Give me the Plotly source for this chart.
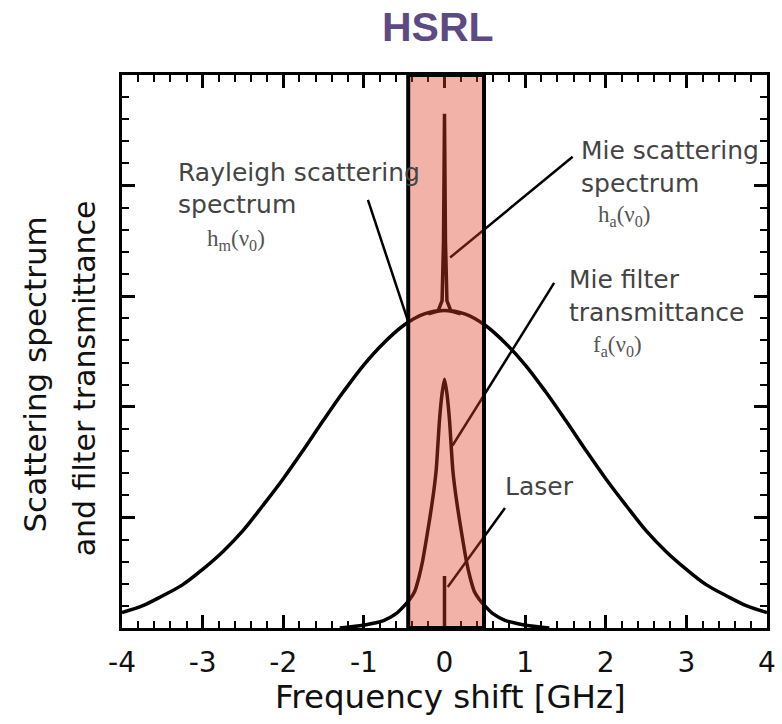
import plotly.graph_objects as go

# ---------------- data ----------------
# Rayleigh scattering spectrum (broad curve), GHz vs arbitrary units
rayleigh_x = [-4.0, -3.75, -3.5, -3.25, -3.0, -2.75, -2.5, -2.25, -2.0, -1.75, -1.5, -1.25,
              -1.0, -0.75, -0.5, -0.25, 0.0, 0.25, 0.5, 0.75, 1.0, 1.25, 1.5, 1.75, 2.0,
              2.25, 2.5, 2.75, 3.0, 3.25, 3.5, 3.75, 4.0]
rayleigh_y = [0.14, 0.20, 0.29, 0.39, 0.53, 0.69, 0.88, 1.11, 1.35, 1.61, 1.88, 2.14,
              2.38, 2.58, 2.74, 2.84, 2.87, 2.84, 2.74, 2.58, 2.38, 2.14, 1.88, 1.61, 1.35,
              1.11, 0.88, 0.69, 0.53, 0.39, 0.29, 0.20, 0.14]

# Mie scattering spike sitting on the Rayleigh curve
mie_x = [-0.2, -0.08, -0.03, -0.012, 0.0, 0.012, 0.03, 0.08, 0.2]
mie_y = [2.84, 2.865, 2.96, 3.5, 4.65, 3.5, 2.96, 2.865, 2.84]

# Mie filter transmittance
filter_x = [-1.3, -1.05, -0.9, -0.75, -0.6, -0.5, -0.43, -0.37, -0.32, -0.27, -0.23, -0.185,
            -0.14, -0.103, -0.062, -0.03, 0.0, 0.03, 0.062, 0.103, 0.14, 0.185, 0.23, 0.27,
            0.32, 0.37, 0.43, 0.5, 0.6, 0.75, 0.9, 1.05, 1.3]
filter_y = [0.0, 0.02, 0.04, 0.07, 0.13, 0.20, 0.26, 0.33, 0.45, 0.61, 0.78, 0.98,
            1.20, 1.43, 1.88, 2.12, 2.25, 2.12, 1.88, 1.43, 1.20, 0.98, 0.78, 0.61,
            0.45, 0.33, 0.26, 0.20, 0.13, 0.07, 0.04, 0.02, 0.0]

# Laser line
laser_x = [0.0, 0.0]
laser_y = [0.0, 0.47]

# Filter pass band
band_x = [-0.45, 0.49]

# Axis ticks
x_tickvals = [-4, -3, -2, -1, 0, 1, 2, 3, 4]
x_ticktext = ["-4", "-3", "-2", "-1", "0", "1", "2", "3", "4"]
y_tickvals = [1, 2, 3, 4]

# ---------------- figure ----------------
W, H = 782, 724
SX = 0.99                      # horizontal screen/layout ratio observed in the capture
L, R, T, B = 122, 6, 75, 96
PW, PH = W - L - R, H - T - B


def pxx(px):
    return (px / SX - L) / PW


def pxy(py):
    return (H - B - py) / PH


FONT = "DejaVu Sans, Arial, sans-serif"
LINE_W = 3.5

fig = go.Figure()
fig.add_trace(go.Scatter(x=rayleigh_x, y=rayleigh_y, mode="lines",
                         line=dict(color="black", width=LINE_W, shape="spline", smoothing=1.0),
                         hoverinfo="skip", showlegend=False))
fig.add_trace(go.Scatter(x=mie_x, y=mie_y, mode="lines",
                         line=dict(color="black", width=LINE_W),
                         hoverinfo="skip", showlegend=False))
fig.add_trace(go.Scatter(x=filter_x, y=filter_y, mode="lines",
                         line=dict(color="black", width=LINE_W, shape="spline", smoothing=0.6),
                         hoverinfo="skip", showlegend=False))
fig.add_trace(go.Scatter(x=laser_x, y=laser_y, mode="lines",
                         line=dict(color="black", width=LINE_W),
                         hoverinfo="skip", showlegend=False))
# empty trace so the mirrored (top/right) axes with minor ticks are drawn
fig.add_trace(go.Scatter(x=[], y=[], xaxis="x2", yaxis="y2", mode="lines",
                         hoverinfo="skip", showlegend=False))

# leader lines (annotation pointers)
leaders = [
    ((-0.95, 3.87), (-0.45, 2.77)),   # Rayleigh
    ((1.59, 4.26), (0.07, 3.35)),     # Mie scattering
    ((1.36, 3.12), (0.10, 1.65)),     # Mie filter
    ((0.75, 1.085), (0.04, 0.37)),    # Laser
]
for (x0, y0), (x1, y1) in leaders:
    fig.add_shape(type="line", x0=x0, y0=y0, x1=x1, y1=y1, xref="x", yref="y",
                  line=dict(color="black", width=2.5), layer="above")

# pass band rectangle
fig.add_shape(type="rect", x0=band_x[0], x1=band_x[1], y0=0, y1=5, xref="x", yref="y",
              fillcolor="rgba(222,62,38,0.40)", line=dict(color="black", width=4),
              layer="above")

tick_common = dict(ticks="inside", tickcolor="black", tickwidth=2.5, ticklen=13,
                   showgrid=False, zeroline=False, fixedrange=True)
minor = dict(ticks="inside", dtick=0.2, ticklen=7, tickwidth=2, tickcolor="black",
             showgrid=False)

fig.update_layout(
    xaxis=dict(range=[-4, 4], tickmode="array", tickvals=x_tickvals, ticktext=x_ticktext,
               tickfont=dict(family=FONT, size=28, color="#111"), ticklabelstandoff=7,
               showline=True, linecolor="black", linewidth=3, mirror=True,
               minor=minor, **tick_common),
    yaxis=dict(range=[0, 5], tickmode="array", tickvals=y_tickvals, showticklabels=False,
               showline=True, linecolor="black", linewidth=3, mirror=True,
               minor=minor, **tick_common),
    xaxis2=dict(range=[-4, 4], overlaying="x", side="top", tickmode="array",
                tickvals=x_tickvals, showticklabels=False, showline=False,
                minor=minor, **tick_common),
    yaxis2=dict(range=[0, 5], overlaying="y", side="right", tickmode="array",
                tickvals=y_tickvals, showticklabels=False, showline=False,
                minor=minor, **tick_common),
)

ann = []


def text(px, py, s, size=24, color="#444", family=FONT, anchor="left", angle=0):
    ann.append(dict(x=pxx(px), y=pxy(py), xref="paper", yref="paper", text=s, showarrow=False,
                    xanchor=anchor, yanchor="middle", textangle=angle,
                    font=dict(family=family, size=size, color=color)))


SERIF = "Liberation Serif, Times New Roman, serif"
text(175, 172, "Rayleigh scattering", size=25)
text(175, 204, "spectrum", size=25)
text(204, 240, "h<sub>m</sub>(ν<sub>0</sub>)", size=23, color="#555", family=SERIF)
text(580, 150, "Mie scattering", size=25)
text(580, 183, "spectrum", size=25)
text(597, 216, "h<sub>a</sub>(ν<sub>0</sub>)", size=23, color="#555", family=SERIF)
text(567, 279, "Mie filter", size=25)
text(567, 312, "transmittance", size=25)
text(592, 346, "f<sub>a</sub>(ν<sub>0</sub>)", size=23, color="#555", family=SERIF)
text(503, 487, "Laser", size=25)

# axis titles
text(451, 697, "Frequency shift [GHz]", size=32.5, color="#111", anchor="center")
text(33, 375, "Scattering spectrum", size=31, color="#111", anchor="center", angle=-90)
text(83, 378, "and filter transmittance", size=30, color="#111", anchor="center", angle=-90)

# title
ann.append(dict(x=pxx(438), y=pxy(27), xref="paper", yref="paper", text="<b>HSRL</b>",
                showarrow=False, xanchor="center", yanchor="middle",
                font=dict(family="Liberation Sans, Arial, sans-serif", size=41,
                          color="rgb(94,74,130)")))

fig.update_layout(width=W, height=H, margin=dict(l=L, r=R, t=T, b=B, pad=0),
                  paper_bgcolor="white", plot_bgcolor="white", annotations=ann,
                  showlegend=False)

fig.write_html("out.html", config={"displayModeBar": False},
               post_script=("document.body.style.margin='0px';"
                            "document.body.style.overflow='hidden';"
                            "document.documentElement.style.overflow='hidden';"))
